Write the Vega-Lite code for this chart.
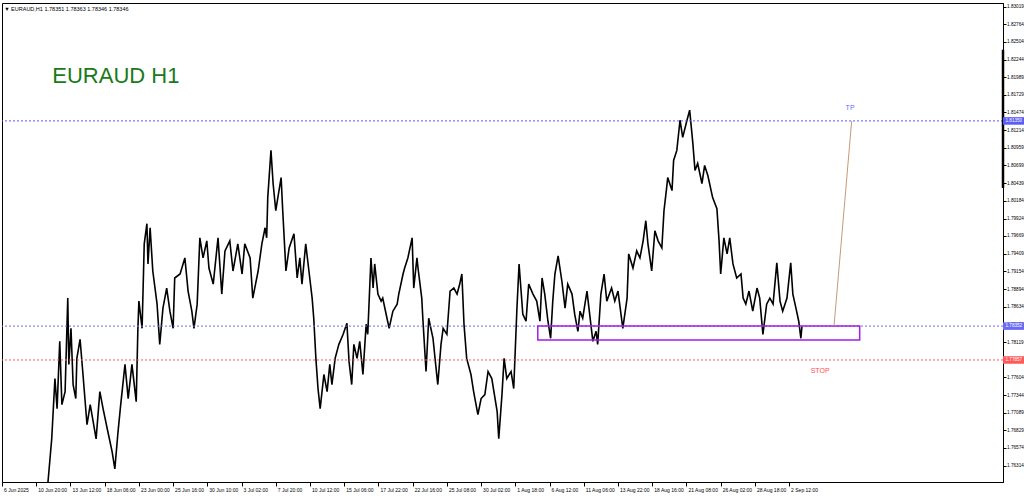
{
  "$schema": "https://vega.github.io/schema/vega-lite/v6.json",
  "width": 1001,
  "height": 479,
  "autosize": {"type": "none"},
  "padding": {"left": 2, "top": 3, "right": 21, "bottom": 18},
  "background": "white",
  "config": {
    "view": {"stroke": "#000", "strokeWidth": 1},
    "font": "Liberation Sans",
    "axis": {"titleColor": "transparent", "titleFontSize": 1, "labelOverlap": false, "labelFlush": false, "labelBound": false, "grid": false,
      "labelFontSize": 5, "labelColor": "#000", "labelFont": "Liberation Sans", "tickColor": "#000", "domainColor": "#000"},
    "axisY": {"labelPadding": 0.5, "tickSize": 3, "labelFontSize": 4.7},
    "axisX": {"labelPadding": 1, "tickSize": 4, "labelAlign": "left", "labelBaseline": "top", "labelOffset": 1.5}
  },
  "datasets": {
    "price": [
      {"i":84,"p":1.7600},{"i":86,"p":1.76074},{"i":93,"p":1.76705},{"i":99,"p":1.77586},{"i":103,"p":1.77146},{"i":108,"p":1.78129},{"i":112,"p":1.77204},{"i":118,"p":1.77395},{"i":123,"p":1.78761},{"i":125,"p":1.77792},{"i":129,"p":1.7832},{"i":133,"p":1.77498},{"i":138,"p":1.77293},{"i":140,"p":1.7788},{"i":146,"p":1.78159},{"i":151,"p":1.77689},{"i":159,"p":1.76911},{"i":165,"p":1.77204},{"i":176,"p":1.76705},{"i":183,"p":1.77395},{"i":189,"p":1.77146},{"i":198,"p":1.76808},{"i":206,"p":1.76514},{"i":211,"p":1.76265},{"i":217,"p":1.76808},{"i":222,"p":1.77204},{"i":230,"p":1.77792},{"i":236,"p":1.77293},{"i":243,"p":1.77792},{"i":251,"p":1.77248},{"i":254,"p":1.78276},{"i":256,"p":1.78717},{"i":262,"p":1.7832},{"i":266,"p":1.79554},{"i":271,"p":1.79848},{"i":273,"p":1.7926},{"i":277,"p":1.79789},{"i":282,"p":1.79157},{"i":290,"p":1.78673},{"i":295,"p":1.78085},{"i":301,"p":1.78614},{"i":308,"p":1.78908},{"i":314,"p":1.7857},{"i":320,"p":1.7832},{"i":323,"p":1.79055},{"i":333,"p":1.79113},{"i":342,"p":1.79348},{"i":348,"p":1.78864},{"i":355,"p":1.7857},{"i":359,"p":1.7832},{"i":365,"p":1.78673},{"i":370,"p":1.79642},{"i":376,"p":1.79348},{"i":383,"p":1.79598},{"i":387,"p":1.79201},{"i":395,"p":1.78966},{"i":404,"p":1.79642},{"i":411,"p":1.7882},{"i":417,"p":1.79451},{"i":426,"p":1.79598},{"i":432,"p":1.79157},{"i":441,"p":1.79554},{"i":449,"p":1.79113},{"i":454,"p":1.79554},{"i":464,"p":1.79348},{"i":469,"p":1.78761},{"i":479,"p":1.79157},{"i":486,"p":1.79554},{"i":492,"p":1.79789},{"i":495,"p":1.79642},{"i":497,"p":1.80229},{"i":503,"p":1.80919},{"i":507,"p":1.80435},{"i":512,"p":1.80038},{"i":518,"p":1.80332},{"i":522,"p":1.80523},{"i":525,"p":1.80038},{"i":527,"p":1.79745},{"i":531,"p":1.79157},{"i":537,"p":1.79495},{"i":546,"p":1.79701},{"i":552,"p":1.79055},{"i":557,"p":1.79348},{"i":561,"p":1.78966},{"i":568,"p":1.79554},{"i":574,"p":1.79157},{"i":580,"p":1.78761},{"i":583,"p":1.78467},{"i":587,"p":1.7788},{"i":591,"p":1.77439},{"i":595,"p":1.77146},{"i":602,"p":1.77645},{"i":608,"p":1.77395},{"i":613,"p":1.77792},{"i":617,"p":1.77498},{"i":623,"p":1.7788},{"i":630,"p":1.78085},{"i":638,"p":1.78232},{"i":645,"p":1.78394},{"i":649,"p":1.77836},{"i":654,"p":1.77498},{"i":658,"p":1.78085},{"i":664,"p":1.7788},{"i":669,"p":1.78129},{"i":675,"p":1.77645},{"i":681,"p":1.78379},{"i":684,"p":1.78232},{"i":690,"p":1.79348},{"i":694,"p":1.78908},{"i":697,"p":1.7926},{"i":703,"p":1.7882},{"i":709,"p":1.78717},{"i":712,"p":1.78761},{"i":720,"p":1.78467},{"i":724,"p":1.7832},{"i":731,"p":1.7857},{"i":739,"p":1.78673},{"i":742,"p":1.7882},{"i":750,"p":1.79113},{"i":753,"p":1.79201},{"i":759,"p":1.79348},{"i":767,"p":1.79642},{"i":770,"p":1.78908},{"i":776,"p":1.79348},{"i":778,"p":1.79201},{"i":785,"p":1.78761},{"i":787,"p":1.78467},{"i":793,"p":1.77689},{"i":798,"p":1.78467},{"i":806,"p":1.78174},{"i":811,"p":1.77792},{"i":815,"p":1.77498},{"i":821,"p":1.78085},{"i":825,"p":1.7832},{"i":832,"p":1.78232},{"i":838,"p":1.78864},{"i":845,"p":1.78908},{"i":851,"p":1.7882},{"i":856,"p":1.78966},{"i":860,"p":1.79113},{"i":864,"p":1.78379},{"i":869,"p":1.7788},{"i":877,"p":1.77645},{"i":882,"p":1.77395},{"i":890,"p":1.77058},{"i":896,"p":1.77293},{"i":903,"p":1.77351},{"i":909,"p":1.77689},{"i":916,"p":1.77586},{"i":926,"p":1.77102},{"i":929,"p":1.76705},{"i":935,"p":1.77351},{"i":939,"p":1.7788},{"i":944,"p":1.77586},{"i":952,"p":1.77689},{"i":957,"p":1.77439},{"i":963,"p":1.78614},{"i":967,"p":1.7926},{"i":974,"p":1.78526},{"i":980,"p":1.78423},{"i":985,"p":1.78966},{"i":993,"p":1.7882},{"i":1000,"p":1.78717},{"i":1006,"p":1.78423},{"i":1010,"p":1.79055},{"i":1015,"p":1.7882},{"i":1021,"p":1.78423},{"i":1026,"p":1.78174},{"i":1030,"p":1.78717},{"i":1034,"p":1.79113},{"i":1040,"p":1.79378},{"i":1047,"p":1.79011},{"i":1053,"p":1.78614},{"i":1058,"p":1.78966},{"i":1066,"p":1.7882},{"i":1071,"p":1.78526},{"i":1077,"p":1.78276},{"i":1081,"p":1.7857},{"i":1086,"p":1.78467},{"i":1094,"p":1.78864},{"i":1099,"p":1.78526},{"i":1105,"p":1.78129},{"i":1111,"p":1.78276},{"i":1114,"p":1.78085},{"i":1120,"p":1.7882},{"i":1126,"p":1.79113},{"i":1131,"p":1.78717},{"i":1140,"p":1.78908},{"i":1146,"p":1.78717},{"i":1152,"p":1.78864},{"i":1161,"p":1.7832},{"i":1169,"p":1.78761},{"i":1172,"p":1.79407},{"i":1180,"p":1.79201},{"i":1187,"p":1.79451},{"i":1193,"p":1.79348},{"i":1199,"p":1.79598},{"i":1204,"p":1.79892},{"i":1208,"p":1.79554},{"i":1215,"p":1.79157},{"i":1221,"p":1.79745},{"i":1227,"p":1.79598},{"i":1234,"p":1.79495},{"i":1238,"p":1.80038},{"i":1243,"p":1.80376},{"i":1245,"p":1.80523},{"i":1253,"p":1.80332},{"i":1256,"p":1.80773},{"i":1262,"p":1.80919},{"i":1268,"p":1.8136},{"i":1273,"p":1.8111},{"i":1281,"p":1.8136},{"i":1286,"p":1.81507},{"i":1292,"p":1.81022},{"i":1296,"p":1.80626},{"i":1301,"p":1.80729},{"i":1309,"p":1.80435},{"i":1314,"p":1.80699},{"i":1320,"p":1.80552},{"i":1329,"p":1.80229},{"i":1337,"p":1.80068},{"i":1341,"p":1.79598},{"i":1344,"p":1.79113},{"i":1350,"p":1.79642},{"i":1356,"p":1.79407},{"i":1361,"p":1.79642},{"i":1367,"p":1.7926},{"i":1374,"p":1.79055},{"i":1382,"p":1.79113},{"i":1386,"p":1.78761},{"i":1391,"p":1.78673},{"i":1397,"p":1.78864},{"i":1404,"p":1.7857},{"i":1412,"p":1.78908},{"i":1417,"p":1.78761},{"i":1423,"p":1.78232},{"i":1430,"p":1.78673},{"i":1436,"p":1.78761},{"i":1442,"p":1.78673},{"i":1449,"p":1.79275},{"i":1455,"p":1.78717},{"i":1460,"p":1.7857},{"i":1468,"p":1.78761},{"i":1475,"p":1.79275},{"i":1479,"p":1.7882},{"i":1486,"p":1.7857},{"i":1490,"p":1.78423},{"i":1494,"p":1.78174},{"i":1496,"p":1.78346}
    ],
    "levels": [
      {"p": 1.8135, "kind": "tp", "lab": "1.81350"},
      {"p": 1.78352, "kind": "entry", "lab": "1.78352"},
      {"p": 1.77857, "kind": "stop", "lab": "1.77857"}
    ],
    "zone": [{"i": 1002, "i2": 1604, "p": 1.78352, "p2": 1.7815}],
    "trend": [{"i": 1556, "i2": 1589, "p": 1.78352, "p2": 1.8135}],
    "bar": [{"p": 1.8239, "p2": 1.8037}],
    "title": [{"i": 94, "p": 1.82006, "t": "EURAUD H1"}],
    "header": [{"i": 4, "p": 1.82985, "t": "▼ EURAUD,H1  1.78351 1.78363 1.78346 1.78346"}],
    "tp": [{"i": 1586, "p": 1.81539, "t": "TP"}],
    "stop": [{"i": 1530, "p": 1.77696, "t": "STOP"}]
  },
  "resolve": {"axis": {"x": "independent", "y": "independent"}},
  "layer": [
    {
      "data": {"name": "price"},
      "mark": {"type": "line", "color": "#000000", "strokeWidth": 1.6, "clip": true},
      "encoding": {
        "x": {"field": "i", "type": "quantitative",
          "scale": {"domain": [0, 1872], "nice": false, "zero": false},
          "axis": {"title": null, "orient": "bottom",
            "values": [0,64,128,192,256,320,384,448,512,576,640,704,768,832,896,960,1024,1088,1152,1216,1280,1344,1408,1472],
            "labelExpr": "['6 Jun 2025','10 Jun 20:00','13 Jun 12:00','18 Jun 06:00','23 Jun 00:00','25 Jun 16:00','30 Jun 10:00','3 Jul 02:00','7 Jul 20:00','10 Jul 12:00','15 Jul 06:00','17 Jul 22:00','22 Jul 16:00','25 Jul 08:00','30 Jul 02:00','1 Aug 18:00','6 Aug 12:00','11 Aug 06:00','13 Aug 22:00','18 Aug 16:00','21 Aug 08:00','26 Aug 02:00','28 Aug 18:00','2 Sep 12:00'][round(datum.value/64)]",
            "labelOverlap": false}},
        "y": {"field": "p", "type": "quantitative",
          "scale": {"domain": [1.76074, 1.83073], "nice": false, "zero": false},
          "axis": {"title": null, "orient": "right",
            "values": [1.83019,1.82764,1.82504,1.82244,1.81989,1.81729,1.81474,1.81214,1.80959,1.80699,1.80439,1.80184,1.79924,1.79669,1.79409,1.79154,1.78894,1.78634,1.78379,1.78119,1.77864,1.77604,1.77344,1.77089,1.76829,1.76574,1.76314,1.76059],
            "format": ".5f", "labelOverlap": false}}
      }
    },
    {
      "data": {"name": "levels"},
      "mark": {"type": "rule", "strokeDash": [2, 2], "strokeWidth": 1},
      "encoding": {
        "y": {"field": "p", "type": "quantitative", "axis": null},
        "color": {"field": "kind", "type": "nominal", "legend": null,
          "scale": {"domain": ["tp", "entry", "stop"], "range": ["#5b5bf5", "#6a6af5", "#ff5a5a"]}}
      }
    },
    {
      "data": {"name": "zone"},
      "mark": {"type": "rect", "fill": null, "fillOpacity": 0, "stroke": "#a21ee6", "strokeWidth": 1.5},
      "encoding": {
        "x": {"field": "i", "type": "quantitative", "axis": null},
        "x2": {"field": "i2"},
        "y": {"field": "p", "type": "quantitative", "axis": null},
        "y2": {"field": "p2"}
      }
    },
    {
      "data": {"name": "trend"},
      "mark": {"type": "rule", "color": "#c49a78", "strokeWidth": 1},
      "encoding": {
        "x": {"field": "i", "type": "quantitative", "axis": null},
        "x2": {"field": "i2"},
        "y": {"field": "p", "type": "quantitative", "axis": null},
        "y2": {"field": "p2"}
      }
    },
    {
      "data": {"name": "bar"},
      "mark": {"type": "rule", "color": "#000", "strokeWidth": 2.5},
      "encoding": {
        "x": {"datum": 1872, "type": "quantitative", "axis": null},
        "y": {"field": "p", "type": "quantitative", "axis": null},
        "y2": {"field": "p2"}
      }
    },
    {
      "data": {"name": "levels"},
      "mark": {"type": "point", "shape": "M0,-0.36L2,-0.36L2,0.36L0,0.36Z", "filled": true, "opacity": 1, "size": 441, "strokeWidth": 0},
      "encoding": {
        "x": {"datum": 1872, "type": "quantitative", "axis": null},
        "y": {"field": "p", "type": "quantitative", "axis": null},
        "color": {"field": "kind", "type": "nominal", "legend": null,
          "scale": {"domain": ["tp", "entry", "stop"], "range": ["#1f1fff", "#1f1fff", "#ff2020"]}}
      }
    },
    {
      "data": {"name": "levels"},
      "mark": {"type": "text", "align": "left", "baseline": "middle", "dx": 2.5, "fontSize": 4.6, "color": "#ffffff", "font": "Liberation Sans"},
      "encoding": {
        "x": {"datum": 1872, "type": "quantitative", "axis": null},
        "y": {"field": "p", "type": "quantitative", "axis": null},
        "text": {"field": "lab"}
      }
    },
    {
      "data": {"name": "title"},
      "mark": {"type": "text", "align": "left", "baseline": "middle", "fontSize": 22, "color": "#1a7a1a", "font": "Liberation Sans"},
      "encoding": {
        "x": {"field": "i", "type": "quantitative", "axis": null},
        "y": {"field": "p", "type": "quantitative", "axis": null},
        "text": {"field": "t"}
      }
    },
    {
      "data": {"name": "header"},
      "mark": {"type": "text", "align": "left", "baseline": "middle", "fontSize": 5.5, "color": "#000", "font": "Liberation Sans"},
      "encoding": {
        "x": {"field": "i", "type": "quantitative", "axis": null},
        "y": {"field": "p", "type": "quantitative", "axis": null},
        "text": {"field": "t"}
      }
    },
    {
      "data": {"name": "tp"},
      "mark": {"type": "text", "align": "center", "baseline": "middle", "fontSize": 7, "color": "#6b6bff", "font": "Liberation Sans"},
      "encoding": {
        "x": {"field": "i", "type": "quantitative", "axis": null},
        "y": {"field": "p", "type": "quantitative", "axis": null},
        "text": {"field": "t"}
      }
    },
    {
      "data": {"name": "stop"},
      "mark": {"type": "text", "align": "center", "baseline": "middle", "fontSize": 7, "color": "#ff5050", "font": "Liberation Sans"},
      "encoding": {
        "x": {"field": "i", "type": "quantitative", "axis": null},
        "y": {"field": "p", "type": "quantitative", "axis": null},
        "text": {"field": "t"}
      }
    }
  ]
}
